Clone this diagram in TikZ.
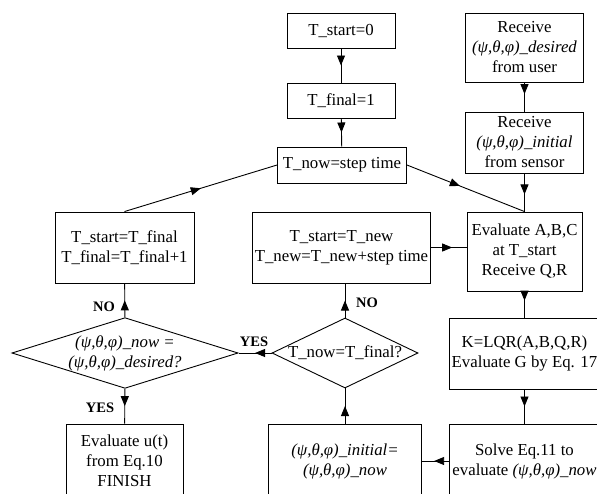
\documentclass[tikz,border=0pt]{standalone}
\usepackage{fontspec}
\setmainfont{Liberation Serif}
\usetikzlibrary{arrows.meta, shapes.geometric, decorations.markings, positioning}
\newcommand{\eul}{\textit{(ψ,θ,φ)}}

\tikzset{
    box/.style={draw, line width=0.9pt, align=center, inner sep=2pt},
    decision/.style={draw, diamond, line width=0.9pt, align=center, inner sep=0pt},
    flow/.style={line width=0.9pt, postaction={decorate},
        decoration={markings, mark=at position #1 with {\arrow{Triangle[length=10pt, width=8pt]}}}},
    flow/.default=0.5,
    answer/.style={font=\bfseries\fontsize{14.5}{16}\selectfont},
}

\begin{document}
\begin{tikzpicture}[x=1pt, y=-1pt, font=\fontsize{16.8}{20}\selectfont]
    \useasboundingbox (0,0) rectangle (597,493);
    \clip (0,0) rectangle (597,493);

    % Time counter column
    \node[box, minimum width=108, minimum height=35] (tstart) at (341,30.5) {T\_start=0};
    \node[box, minimum width=108, minimum height=35] (tfinal) at (341,100.5) {T\_final=1};
    \node[box, minimum width=129, minimum height=36] (tnow) at (342,165) {T\_now=step time};

    % Inputs column
    \node[box, minimum width=118, minimum height=69] (desired) at (524.5,47.5) {Receive\\\eul\textit{\_desired}\\from user};
    \node[box, minimum width=118, minimum height=61] (initial) at (524.5,142.5) {Receive\\\eul\textit{\_initial}\\from sensor};
    \node[box, minimum width=115, minimum height=79] (evalabc) at (524.5,251.5) {Evaluate A,B,C\\at T\_start\\Receive Q,R};
    \node[box, minimum width=150, minimum height=71] (lqr) at (524.5,353.5) {K=LQR(A,B,Q,R)\\Evaluate G by Eq. 17};
    \node[box, minimum width=150, minimum height=74] (solve) at (524.5,461) {Solve Eq.11 to\\evaluate \eul\textit{\_now}};

    % Update boxes
    \node[box, minimum width=177, minimum height=71] (newtime) at (341.5,247.5) {T\_start=T\_new\\T\_new=T\_new+step time};
    \node[box, minimum width=139, minimum height=71] (nexttime) at (124.5,247.5) {T\_start=T\_final\\T\_final=T\_final+1};
    \node[box, minimum width=153, minimum height=74] (update) at (345,461) {\textit{(ψ,θ,φ)\_initial=}\\\eul\textit{\_now}};
    \node[box, minimum width=117, minimum height=74] (finish) at (124.5,461) {Evaluate u(t)\\from Eq.10\\FINISH};

    % Decisions
    \node[decision, minimum width=224, minimum height=70, aspect=3.2] (d1) at (125,353) {\eul\textit{\_now =}\\\eul\textit{\_desired?}};
    \node[decision, minimum width=146, minimum height=70, aspect=2.09] (d2) at (345,353) {T\_now=T\_final?};

    % Connectors
    \draw[flow] (tstart) -- (tfinal);
    \draw[flow] (tfinal) -- (tnow);
    \draw[flow=0.4] (desired) -- (initial);
    \draw[flow=0.55] (initial) -- (evalabc);
    \draw[flow=0.45] (tnow.east) -- (evalabc.north);
    \draw[flow] (nexttime.north) -- (tnow.west);
    \draw[flow=0.6] (newtime.east) -- (newtime.east -| evalabc.west);
    \draw[flow=0.35] (evalabc) -- (evalabc |- lqr.north);
    \draw[flow] (lqr) -- (solve);
    \draw[flow=0.55] (solve) -- (update);
    \draw[flow] (update) -- (d2);
    \draw[flow] (d2) -- (d2 |- newtime.south);
    \draw[flow] (d2) -- (d1);
    \draw[flow] (d1) -- (nexttime);
    \draw[flow] (d1) -- (finish);

    % Answers
    \node[answer] (no1) at (104,307) {NO};
    \node[answer] (yes1) at (100,408) {YES};
    \node[answer] (yes2) at (254,342) {YES};
    \node[answer] (no2) at (367,303) {NO};
\end{tikzpicture}
\end{document}
